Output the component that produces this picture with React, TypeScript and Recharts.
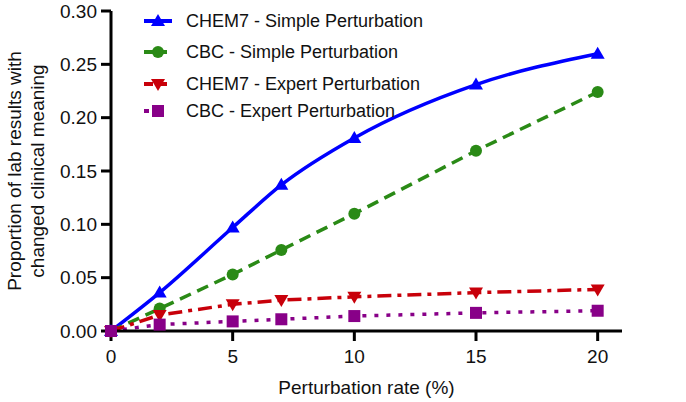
import { Label, Line, LineChart, XAxis, YAxis } from "recharts";

const rates = [0, 2, 5, 7, 10, 15, 20];
const chem7Simple = [0, 0.036, 0.097, 0.137, 0.181, 0.231, 0.26];
const cbcSimple = [0, 0.021, 0.053, 0.076, 0.11, 0.169, 0.224];
const chem7Expert = [0, 0.015, 0.025, 0.029, 0.032, 0.036, 0.039];
const cbcExpert = [0, 0.006, 0.009, 0.011, 0.014, 0.017, 0.019];
const xTicks = [0, 5, 10, 15, 20];
const yTicks = [0, 0.05, 0.1, 0.15, 0.2, 0.25, 0.3];

const BLUE = "#0000ff";
const GREEN = "#2a8a16";
const RED = "#c8000a";
const PURPLE = "#880088";
const FONT = "'Liberation Sans', Arial, sans-serif";

const rows = rates.map((rate, i) => ({
  rate,
  chem7Simple: chem7Simple[i],
  cbcSimple: cbcSimple[i],
  chem7Expert: chem7Expert[i],
  cbcExpert: cbcExpert[i],
}));

type Shape = "up" | "circle" | "down" | "square";

function marker(shape: Shape, color: string, cx: number, cy: number, key?: string) {
  if (shape === "up")
    return <path key={key} d={`M${cx},${cy - 7} L${cx + 7},${cy + 5} L${cx - 7},${cy + 5} Z`} fill={color} />;
  if (shape === "down")
    return <path key={key} d={`M${cx},${cy + 7} L${cx + 7},${cy - 5} L${cx - 7},${cy - 5} Z`} fill={color} />;
  if (shape === "circle") return <circle key={key} cx={cx} cy={cy} r={6} fill={color} />;
  return <rect key={key} x={cx - 6} y={cy - 6} width={12} height={12} fill={color} />;
}

const dotFor = (shape: Shape, color: string) => (p: any) =>
  marker(shape, color, p.cx, p.cy, `${shape}-${p.index}`);

const legendItems = [
  { label: "CHEM7 - Simple Perturbation", color: BLUE, shape: "up" as Shape, dash: undefined, top: 5 },
  { label: "CBC - Simple Perturbation", color: GREEN, shape: "circle" as Shape, dash: "9 5", top: 36 },
  { label: "CHEM7 - Expert Perturbation", color: RED, shape: "down" as Shape, dash: "9 5", top: 68 },
  { label: "CBC - Expert Perturbation", color: PURPLE, shape: "square" as Shape, dash: "5 30", top: 95 },
];

function ChartLegend() {
  return (
    <div style={{ position: "absolute", left: 141, top: 5, width: 300, height: 120, fontFamily: FONT }}>
      {legendItems.map((it) => (
        <div key={it.label} style={{ position: "absolute", left: 0, top: it.top, height: 22, display: "flex", alignItems: "center" }}>
          <svg width={34} height={22}>
            <line x1={3} y1={11} x2={31} y2={11} stroke={it.color} strokeWidth={4} strokeDasharray={it.dash} />
            {marker(it.shape, it.color, 17, 11)}
          </svg>
          <span style={{ marginLeft: 11, fontSize: 18, color: "#111", whiteSpace: "nowrap" }}>{it.label}</span>
        </div>
      ))}
    </div>
  );
}

function YTitle({ viewBox }: any) {
  const cy = viewBox.y + viewBox.height / 2;
  return (
    <text transform={`rotate(-90, 25, ${cy})`} x={25} y={cy} textAnchor="middle" fontSize={19} fontFamily={FONT} fill="#111">
      <tspan x={25} dy={-4}>Proportion of lab results with</tspan>
      <tspan x={25} dy={23}>changed clinical meaning</tspan>
    </text>
  );
}

export default function App() {
  const tickStyle = { fill: "#111", fontSize: 19, fontFamily: FONT };
  return (
    <div style={{ position: "fixed", left: 0, top: 0, width: 686, height: 402, background: "#fff" }}>
      <LineChart width={686} height={402} data={rows} margin={{ top: 11, right: 64, left: 0, bottom: 0 }}>
        <XAxis
          dataKey="rate"
          type="number"
          domain={[0, 21]}
          ticks={xTicks}
          height={71}
          tick={tickStyle}
          tickSize={10}
          tickMargin={9}
          axisLine={{ stroke: "#000", strokeWidth: 3 }}
          tickLine={{ stroke: "#000", strokeWidth: 3 }}
        >
          <Label value="Perturbation rate (%)" position="insideBottom" offset={8} style={{ fontSize: 19, fontFamily: FONT, fill: "#111" }} />
        </XAxis>
        <YAxis
          type="number"
          domain={[0, 0.3]}
          ticks={yTicks}
          width={111}
          tick={tickStyle}
          tickSize={10}
          tickMargin={4}
          tickFormatter={(v: number) => v.toFixed(2)}
          axisLine={{ stroke: "#000", strokeWidth: 3 }}
          tickLine={{ stroke: "#000", strokeWidth: 3 }}
        >
          <Label content={<YTitle />} />
        </YAxis>
        <Line type="monotone" dataKey="chem7Simple" stroke={BLUE} strokeWidth={3.5} dot={dotFor("up", BLUE)} isAnimationActive={false} />
        <Line type="linear" dataKey="cbcSimple" stroke={GREEN} strokeWidth={3.5} strokeDasharray="12 7" dot={dotFor("circle", GREEN)} isAnimationActive={false} />
        <Line type="linear" dataKey="chem7Expert" stroke={RED} strokeWidth={3.5} strokeDasharray="14 6 4 6" dot={dotFor("down", RED)} isAnimationActive={false} />
        <Line type="linear" dataKey="cbcExpert" stroke={PURPLE} strokeWidth={3.5} strokeDasharray="4 8" dot={dotFor("square", PURPLE)} isAnimationActive={false} />
      </LineChart>
      <ChartLegend />
    </div>
  );
}
